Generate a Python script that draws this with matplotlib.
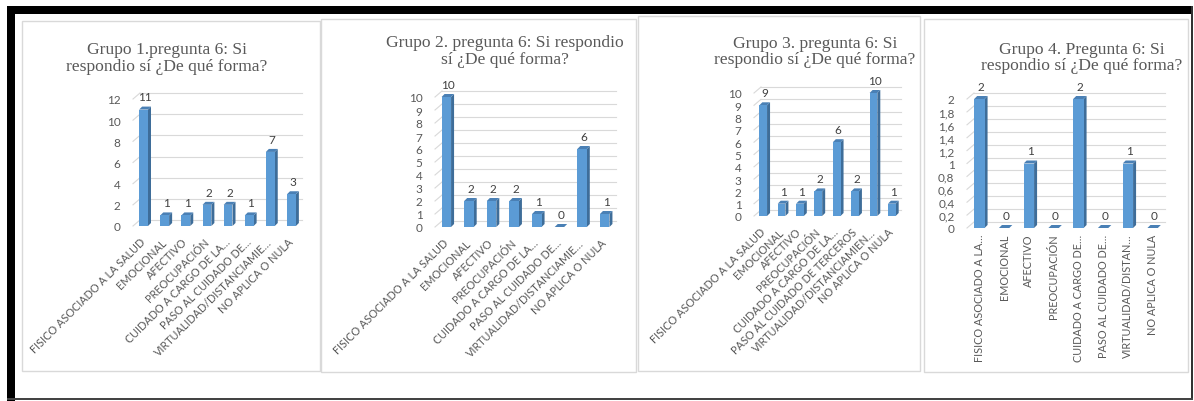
import numpy as np
import matplotlib.pyplot as plt
from matplotlib.patches import Rectangle, Polygon

# Datos por grupo (pregunta 6)
cat_g1 = ['FISICO ASOCIADO A LA SALUD', 'EMOCIONAL', 'AFECTIVO', 'PREOCUPACIÓN',
          'CUIDADO A CARGO DE LA…', 'PASO AL CUIDADO DE…',
          'VIRTUALIDAD/DISTANCIAMIE…', 'NO APLICA O NULA']
cat_g2 = cat_g1
cat_g3 = ['FISICO ASOCIADO A LA SALUD', 'EMOCIONAL', 'AFECTIVO', 'PREOCUPACIÓN',
          'CUIDADO A CARGO DE LA…', 'PASO AL CUIDADO DE TERCEROS',
          'VIRTUALIDAD/DISTANCIAMIEN…', 'NO APLICA O NULA']
cat_g4 = ['FISICO ASOCIADO A LA…', 'EMOCIONAL', 'AFECTIVO', 'PREOCUPACIÓN',
          'CUIDADO A CARGO DE…', 'PASO AL CUIDADO DE…',
          'VIRTUALIDAD/DISTAN…', 'NO APLICA O NULA']

val_g1 = [11, 1, 1, 2, 2, 1, 7, 3]
val_g2 = [10, 2, 2, 2, 1, 0, 6, 1]
val_g3 = [9, 1, 1, 2, 6, 2, 10, 1]
val_g4 = [2, 0, 1, 0, 2, 0, 1, 0]

titulos = ['Grupo 1.pregunta 6: Si\nrespondio sí ¿De qué forma?',
           'Grupo 2. pregunta 6: Si respondio\nsí ¿De qué forma?',
           'Grupo 3. pregunta 6: Si\nrespondio sí ¿De qué forma?',
           'Grupo 4. Pregunta 6: Si\nrespondio sí ¿De qué forma?']

W, H = 1194, 402
frente = '#5B9BD5'
lado = '#3E6D99'
tapa = '#4A80B5'
rejilla = '#D9D9D9'
gris_txt = '#595959'

fig = plt.figure(figsize=(W / 100, H / 100), dpi=100)


def fx(px):
    return px / W


def fy(py):
    return 1 - py / H


def rect(x0, y0, x1, y1, **kw):
    fig.patches.append(Rectangle((fx(x0), fy(y1)), fx(x1) - fx(x0), fy(y0) - fy(y1),
                                 transform=fig.transFigure, zorder=-1, **kw))


# marco negro exterior
rect(7, 7, 1193, 15, facecolor='black', edgecolor='none')
rect(7, 7, 15, 402, facecolor='black', edgecolor='none')
rect(1191, 7, 1193, 401, facecolor='#333333', edgecolor='none')
rect(7, 399, 1193, 401, facecolor='#444444', edgecolor='none')


def draw_panel(caja, marco, titulo, pos_tit, cats, vals, ymax, paso, rot):
    izq, arriba, der, cero = caja
    rect(*marco, facecolor='none', edgecolor=rejilla, linewidth=1.0)
    fig.text(fx(pos_tit[0]), fy(pos_tit[1]), titulo, ha='center', va='center',
             multialignment='center', family='Liberation Serif', fontsize=12.6,
             color=gris_txt, linespacing=1.05)

    ax = fig.add_axes([fx(izq), fy(cero), fx(der) - fx(izq), fy(arriba) - fy(cero)])
    ax.patch.set_alpha(0)
    n = len(vals)
    x = np.arange(n)
    ax.set_xlim(-0.5, n - 0.5)
    ax.set_ylim(0, ymax)
    for s in ax.spines.values():
        s.set_visible(False)

    p0 = ax.transData.transform((0, 0))
    p1 = ax.transData.transform((1, 1))
    ux, uy = p1[0] - p0[0], p1[1] - p0[1]

    # pared del fondo (efecto 3D)
    wx, wy = 7 / ux, 6 / uy
    ticks = np.round(np.arange(0, ymax + paso / 2, paso), 1)
    for t in ticks:
        ax.plot([-0.5, -0.5 + wx], [t, t + wy], color=rejilla, lw=0.8, clip_on=False, zorder=0)
        ax.plot([-0.5 + wx, n - 0.5], [t + wy, t + wy], color=rejilla, lw=0.8,
                clip_on=False, zorder=0)

    ancho = 0.42
    sx, sy = 3 / ux, 3 / uy
    ax.bar(x, vals, width=ancho, color=frente, zorder=3)
    for xi, v in zip(x, vals):
        x0, x1 = xi - ancho / 2, xi + ancho / 2
        ax.add_patch(Polygon([(x1, 0), (x1 + sx, sy), (x1 + sx, v + sy), (x1, v)],
                             closed=True, facecolor=lado, edgecolor='none', zorder=2,
                             clip_on=False))
        ax.add_patch(Polygon([(x0, v), (x1, v), (x1 + sx, v + sy), (x0 + sx, v + sy)],
                             closed=True, facecolor=tapa, edgecolor='none', zorder=2,
                             clip_on=False))
        ax.annotate(str(v), (xi + sx / 2, v + sy), xytext=(0, 3), textcoords='offset points',
                    ha='center', va='bottom', fontsize=8.5, color='#404040', family='Lato',
                    annotation_clip=False)

    ax.set_yticks(ticks)
    ax.set_yticklabels([f'{t:g}'.replace('.', ',') for t in ticks])
    ax.set_xticks(x)
    if rot == 45:
        ax.set_xticklabels(cats, rotation=45, ha='right', va='center', rotation_mode='anchor')
        pad_x = 10
    else:
        ax.set_xticklabels(cats, rotation=90, ha='center', va='top')
        pad_x = 4
    ax.tick_params(axis='y', length=0, pad=9, labelsize=8.5, labelcolor=gris_txt)
    ax.tick_params(axis='x', length=0, pad=pad_x, labelsize=7.8, labelcolor=gris_txt)
    for lab in ax.get_xticklabels() + ax.get_yticklabels():
        lab.set_family('Lato')
    return ax


draw_panel((133, 100, 302, 227), (22, 22, 320, 372), titulos[0], (167, 58.5),
           cat_g1, val_g1, 12, 2, 45)
draw_panel((435, 98, 616, 228), (321, 20, 636, 373), titulos[1], (505, 51.5),
           cat_g2, val_g2, 10, 1, 45)
draw_panel((754, 94, 901, 217), (638, 17, 920, 372), titulos[2], (815, 52),
           cat_g3, val_g3, 10, 1, 45)
draw_panel((967, 100, 1165, 229), (924, 20, 1188, 373), titulos[3], (1082, 58),
           cat_g4, val_g4, 2, 0.2, 90)

fig.savefig('out.png', dpi=100, facecolor='white')
